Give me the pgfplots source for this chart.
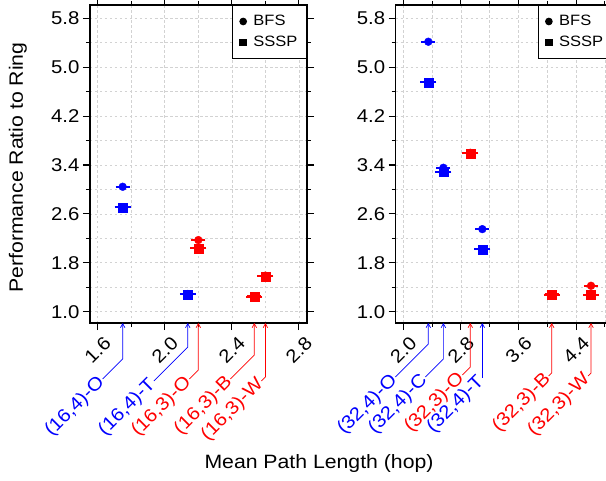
\documentclass[border=0pt]{standalone}
\usepackage{fontspec}
\setmainfont[FakeStretch=1.1]{Liberation Sans}
\usepackage{pgfplots}
\pgfplotsset{compat=1.18}
\usetikzlibrary{arrows.meta}

% one label under the x axis: colour, x, vertical drop, diagonal, text
\newcommand{\ann}[5]{%
  \draw[#1, line width=0.7pt, -{Straight Barb[length=4pt,width=4.5pt]}]
    (axis cs:#2,0.815) ++(0pt,-#3pt) ++(-#4pt,-#4pt)
    node[rotate=45, anchor=east, inner sep=1pt, font=\fontsize{18.5}{19}\selectfont] {#5}
    -- ++(#4pt,#4pt) -- ++(0pt,#3pt);}

\pgfplotsset{
  panel/.style={
    scale only axis, width=217pt, height=318pt,
    anchor=south west,
    ymin=0.815, ymax=6.018,
    ytick={1.0,1.8,2.6,3.4,4.2,5.0,5.8},
    minor ytick={1.4,2.2,3.0,3.8,4.6,5.4},
    grid=both,
    major grid style={gray!35, dash pattern=on 2.5pt off 2.5pt, line width=0.7pt},
    minor grid style={gray!35, dash pattern=on 2.5pt off 2.5pt, line width=0.7pt},
    tick align=outside, major tick length=7pt, minor tick length=4pt,
    tick style={black, line width=1.1pt},
    axis line style={line width=1.1pt},
    tick label style={font=\fontsize{18.5}{19}\selectfont},
    /pgf/number format/fixed, /pgf/number format/fixed zerofill,
    /pgf/number format/precision=1, /pgf/number format/assume math mode=true,
    xticklabel style={rotate=45, anchor=center},
    xticklabel shift=20pt,
    clip=false,
    legend style={at={(rel axis cs:1,1)}, anchor=north east, draw=black,
      line width=1pt, fill=white, font=\fontsize{15}{16}\selectfont,
      inner xsep=7pt, inner ysep=8pt, row sep=5pt,
      /tikz/every odd column/.append style={column sep=5pt}},
    legend cell align=left,
    legend image code/.code={\draw[#1] plot coordinates {(0pt,0pt)};},
  },
  bfs/.style={only marks, mark=*, mark size=3.9pt,
    error bars/.cd, y dir=both, y fixed=0.004, error mark=|,
    error mark options={mark size=7pt, line width=1.6pt}},
  sssp/.style={only marks, mark=square*, mark size=4.5pt,
    error bars/.cd, y dir=both, y fixed=0.004, error mark=|,
    error mark options={mark size=8pt, line width=1.6pt}},
}

\begin{document}
\begin{tikzpicture}
\path[use as bounding box] (0pt,0pt) rectangle (606pt,480pt);

\begin{axis}[panel, at={(90pt,157pt)},
  xmin=1.554, xmax=2.848,
  xtick={1.6,2.0,2.4,2.8}, minor xtick={1.8,2.2,2.6}]
  \addlegendimage{only marks, mark=*, mark size=3.3pt, black}
  \addlegendentry{BFS}
  \addlegendimage{only marks, mark=square*, mark size=3.3pt, black}
  \addlegendentry{SSSP}
  \addplot[blue, bfs] coordinates {(1.749,3.044) (2.137,1.29)};
  \addplot[red, bfs] coordinates {(2.20,2.172) (2.534,1.25) (2.60,1.59)};
  \addplot[blue, sssp] coordinates {(1.749,2.707) (2.137,1.283)};
  \addplot[red, sssp] coordinates {(2.20,2.035) (2.534,1.24) (2.60,1.58)};
  \ann{blue}{1.749}{36}{20}{(16,4)-O}
  \ann{blue}{2.137}{24}{34}{(16,4)-T}
  \ann{red}{2.20}{47}{9}{(16,3)-O}
  \ann{red}{2.534}{32}{24}{(16,3)-B}
  \ann{red}{2.60}{54}{4}{(16,3)-W}
\end{axis}

\begin{axis}[panel, at={(395.7pt,157pt)},
  xmin=1.894, xmax=4.908,
  xtick={2.0,2.8,3.6,4.4}, minor xtick={2.4,3.2,4.0,4.8}]
  \addlegendimage{only marks, mark=*, mark size=3.3pt, black}
  \addlegendentry{BFS}
  \addlegendimage{only marks, mark=square*, mark size=3.3pt, black}
  \addlegendentry{SSSP}
  \addplot[blue, bfs] coordinates {(2.347,5.417) (2.556,3.355) (3.097,2.351)};
  \addplot[red, bfs] coordinates {(2.93,3.60) (4.061,1.285) (4.607,1.424)};
  \addplot[blue, sssp] coordinates {(2.347,4.753) (2.556,3.29) (3.097,2.02)};
  \addplot[red, sssp] coordinates {(2.93,3.59) (4.061,1.277) (4.607,1.277)};
  \ann{blue}{2.347}{21}{33}{(32,4)-O}
  \ann{blue}{2.556}{36}{18}{(32,4)-C}
  \ann{red}{2.93}{44}{8}{(32,3)-O}
  \ann{blue}{3.097}{55}{0}{(32,4)-T}
  \ann{red}{4.061}{50}{3}{(32,3)-B}
  \ann{red}{4.607}{50}{3}{(32,3)-W}
\end{axis}

\node[rotate=90, font=\fontsize{19.3}{20}\selectfont] at (18pt,312.5pt) {Performance Ratio to Ring};
\node[font=\fontsize{19.3}{20}\selectfont] at (319pt,16pt) {Mean Path Length (hop)};
\end{tikzpicture}
\end{document}
